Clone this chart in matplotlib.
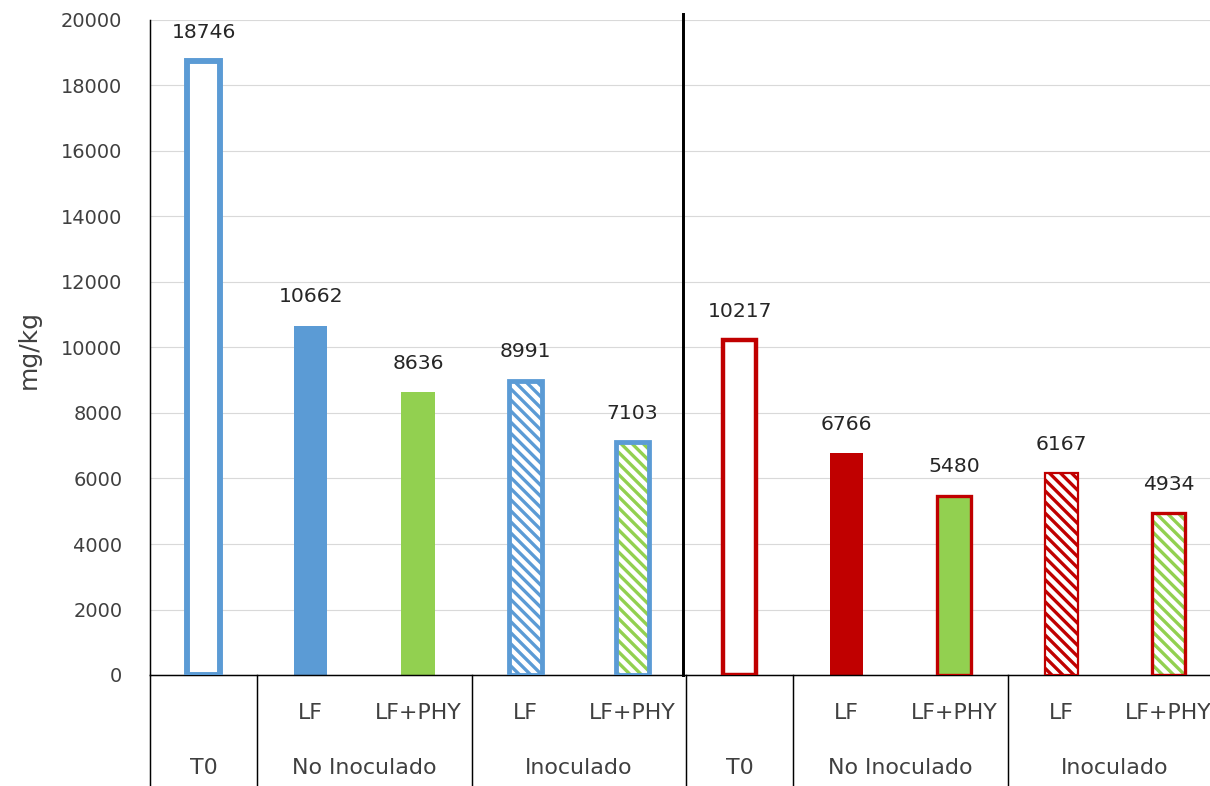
import matplotlib
matplotlib.use("Agg")
import matplotlib.pyplot as plt
import numpy as np

DPI = 133
plt.rcParams['font.family'] = ['DejaVu Sans']
plt.rcParams['hatch.linewidth'] = 1.8

# data
treatments = ["", "LF", "LF+PHY", "LF", "LF+PHY", "", "LF", "LF+PHY", "LF", "LF+PHY"]
groups = ["T0", "No Inoculado", "Inoculado", "T0", "No Inoculado", "Inoculado"]
group_span = [(0, 0), (1, 2), (3, 4), (5, 5), (6, 7), (8, 9)]
values = [18746, 10662, 8636, 8991, 7103, 10217, 6766, 5480, 6167, 4934]

blue = "#5B9BD5"
green = "#92D050"
red = "#C00000"
txt = "#404040"

# fill, hatch colour, edge colour, edge width
fills = ["white", blue, green, "white", "white", "white", red, green, "white", "white"]
hatch_cols = [None, None, None, blue, green, None, None, None, red, green]
edge_cols = [blue, "none", "none", blue, blue, red, "none", red, red, red]
edge_lws = [3.2, 0, 0, 2.6, 2.6, 2.4, 0, 1.8, 1.2, 1.8]

fig = plt.figure(figsize=(1210 / DPI, 786 / DPI), dpi=DPI)
ax = fig.add_axes([150 / 1210, 111 / 786, 1060 / 1210, 655 / 786])

x = np.arange(len(values))
w = 0.308
bars = ax.bar(x, values, width=w, color=fills, linewidth=0, zorder=2)
for p, hc in zip(bars, hatch_cols):
    if hc:
        p.set_edgecolor(hc)
        p.set_hatch("\\" * 4)
ax.bar(x, values, width=w, fill=False, edgecolor=edge_cols, linewidth=edge_lws, zorder=3)

for i, v in enumerate(values):
    ax.annotate(str(v), (i, v), xytext=(0, 15.7), textcoords="offset points",
                ha="center", va="center", fontsize=11, color="#262626")

ax.set_xlim(-0.5, 9.388)
ax.set_ylim(0, 20000)
ax.set_yticks(range(0, 20001, 2000))
ax.set_xticks([])
ax.tick_params(axis="y", length=0, pad=15, labelsize=10.5, labelcolor=txt)
ax.yaxis.grid(True, color="#D9D9D9", lw=0.6)
ax.set_axisbelow(True)

for s in ["top", "right"]:
    ax.spines[s].set_visible(False)
for s in ["left", "bottom"]:
    ax.spines[s].set_color("black")
    ax.spines[s].set_linewidth(0.8)

# category table under the axis
tr = ax.get_xaxis_transform()
bottom = -111 / 655
for sx in [-0.5, 0.5, 2.5, 4.5, 5.5, 7.5]:
    ax.plot([sx, sx], [0, bottom], transform=tr, color="black", lw=0.8, clip_on=False)
ax.plot([4.47, 4.47], [0, 1.009], transform=tr, color="black", lw=1.6, clip_on=False, zorder=4)

for i, t in enumerate(treatments):
    ax.text(i, -0.058, t, transform=tr, ha="center", va="center", fontsize=12, color=txt)
for g, (a, b) in zip(groups, group_span):
    ax.text((a + b) / 2, -0.142, g, transform=tr, ha="center", va="center", fontsize=12, color=txt)

fig.text(29 / 1210, 1 - 349 / 786, "mg/kg", rotation=90, ha="center", va="center",
         fontsize=13.5, color=txt)

fig.savefig("out.png", dpi=DPI)
